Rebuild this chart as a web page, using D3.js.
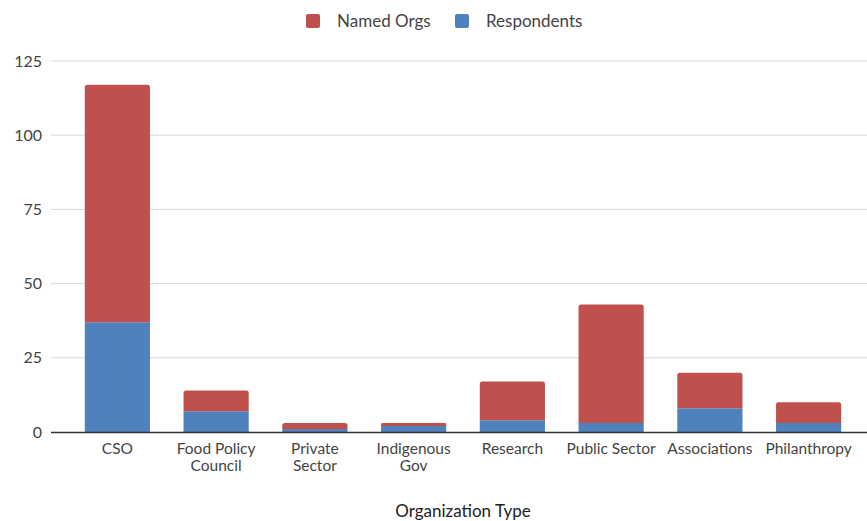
<!DOCTYPE html>
<html>
<head>
<meta charset="utf-8">
<script src="https://cdn.jsdelivr.net/npm/d3@7"></script>
<style>
  html, body { margin: 0; padding: 0; background: #fff; }
  svg { display: block; font-family: Lato, "Open Sans", sans-serif; }
</style>
</head>
<body>
<svg id="chart" width="867" height="521"></svg>
<script>
// Organization types along the x axis (multi-line labels split on "\n")
const categories = ["CSO", "Food Policy\nCouncil", "Private\nSector", "Indigenous\nGov", "Research", "Public Sector", "Associations", "Philanthropy"];
// Stack segments: respondents sit at the bottom, named orgs stacked above
const respondents = [37, 7, 1, 2, 4, 3, 8, 3];
const namedOrgs   = [80, 7, 2, 1, 13, 40, 12, 7];
const yTicks = [0, 25, 50, 75, 100, 125];
const seriesNames = ["Named Orgs", "Respondents"];
const colors = { "Named Orgs": "#c0504d", "Respondents": "#4f81bd" };

const svg = d3.select("#chart");
const margin = { left: 51, right: 867, top: 61, bottom: 432 };

const rows = categories.map((c, i) => ({ cat: c, Respondents: respondents[i], "Named Orgs": namedOrgs[i] }));
const stack = d3.stack().keys(["Respondents", "Named Orgs"])(rows);

const x = d3.scaleBand().domain(categories).range([68, 858]).paddingInner(0.34).paddingOuter(0.17);
const y = d3.scaleLinear().domain([0, 125]).range([margin.bottom, margin.top]);

// gridlines
svg.append("g").selectAll("line").data(yTicks.filter(t => t > 0)).join("line")
  .attr("x1", margin.left).attr("x2", margin.right)
  .attr("y1", d => y(d)).attr("y2", d => y(d))
  .attr("stroke", "#d9d9d9").attr("stroke-width", 1);

// y tick labels
svg.append("g").selectAll("text").data(yTicks).join("text")
  .attr("x", 42).attr("y", d => y(d)).attr("dy", "0.35em")
  .attr("text-anchor", "end").attr("font-size", 16).attr("fill", "#444")
  .text(d => d);

// bars with slightly rounded tops on the upper segment
function segPath(x0, w, yTop, yBot, r) {
  r = Math.min(r, (yBot - yTop) / 2, w / 2);
  return `M${x0},${yBot} L${x0},${yTop + r} Q${x0},${yTop} ${x0 + r},${yTop} L${x0 + w - r},${yTop} Q${x0 + w},${yTop} ${x0 + w},${yTop + r} L${x0 + w},${yBot} Z`;
}

stack.forEach(layer => {
  const top = layer.key === "Named Orgs";
  svg.append("g").selectAll("path").data(layer).join("path")
    .attr("fill", colors[layer.key])
    .attr("d", d => segPath(x(d.data.cat), x.bandwidth(), y(d[1]), y(d[0]), top ? 2.5 : 0));
});

// baseline
svg.append("line").attr("x1", margin.left).attr("x2", margin.right)
  .attr("y1", y(0) + 0.5).attr("y2", y(0) + 0.5)
  .attr("stroke", "#333").attr("stroke-width", 1.3);

// x labels
const xl = svg.append("g").selectAll("text").data(categories).join("text")
  .attr("x", d => x(d) + x.bandwidth() / 2).attr("y", 454)
  .attr("text-anchor", "middle").attr("font-size", 15.5).attr("fill", "#444");
xl.each(function(d) {
  d.split("\n").forEach((line, i) => {
    d3.select(this).append("tspan").attr("x", x(d) + x.bandwidth() / 2)
      .attr("dy", i === 0 ? 0 : 17).text(line);
  });
});

// axis title
svg.append("text").attr("x", 463).attr("y", 517).attr("text-anchor", "middle")
  .attr("font-size", 17).attr("fill", "#222").text("Organization Type");

// legend
const legendPos = [{ sx: 306, tx: 337 }, { sx: 455, tx: 486 }];
seriesNames.forEach((name, i) => {
  svg.append("rect").attr("x", legendPos[i].sx).attr("y", 14).attr("width", 14).attr("height", 14)
    .attr("rx", 2).attr("fill", colors[name]);
  svg.append("text").attr("x", legendPos[i].tx).attr("y", 21).attr("dy", "0.35em")
    .attr("font-size", 17).attr("fill", "#444").text(name);
});
</script>
</body>
</html>
